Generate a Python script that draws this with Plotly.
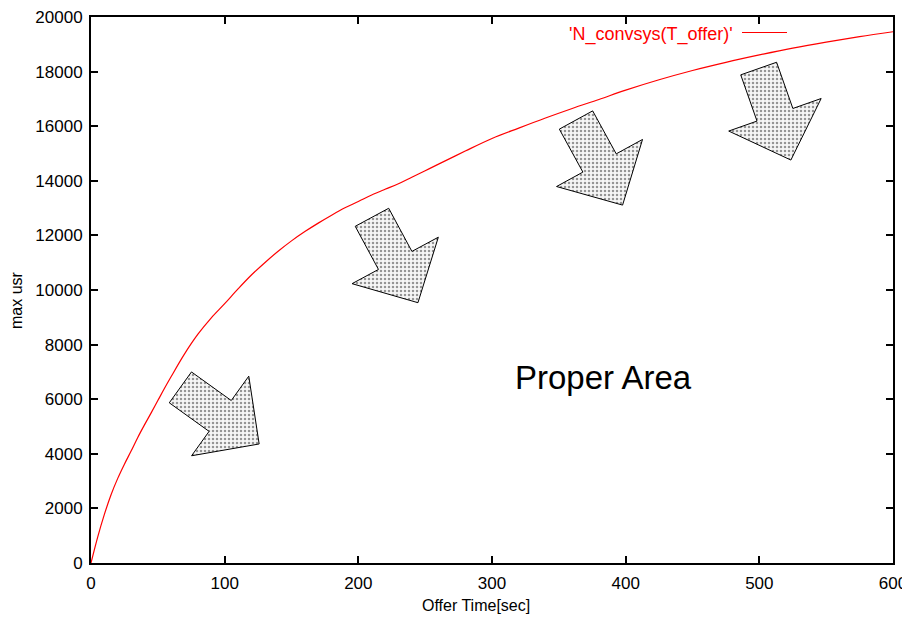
import math
import plotly.graph_objects as go

# ---- data ----
t_offer = [0, 5, 10, 15, 20, 25, 30, 35, 40, 45, 50, 55, 60, 70, 80, 90, 100, 110, 120, 130,
           140, 150, 160, 170, 180, 190, 200, 210, 220, 230, 240, 250, 260, 280, 300, 320,
           340, 360, 380, 400, 425, 450, 475, 500, 525, 550, 575, 600]
n_convsys = [0, 950, 1780, 2500, 3100, 3620, 4100, 4600, 5060, 5500, 5950, 6400, 6830, 7660,
             8380, 8980, 9500, 10040, 10550, 11000, 11420, 11800, 12140, 12450, 12740, 13010,
             13240, 13480, 13690, 13890, 14130, 14370, 14610, 15090, 15550, 15930, 16300,
             16650, 16980, 17320, 17700, 18040, 18340, 18610, 18860, 19080, 19280, 19460]
series_name = "'N_convsys(T_offer)'"

x_ticks = [0, 100, 200, 300, 400, 500, 600]
y_ticks = list(range(0, 20001, 2000))

# decorative arrows: tip position (data units) and pointing angle (degrees below horizontal)
arrow_tip_x = [125.8, 244.6, 397.7, 523.6]
arrow_tip_y = [4360, 9535, 13110, 14760]
arrow_angle = [35.7, 61.7, 61.3, 70.6]

area_label = "Proper Area"

# ---- layout geometry (page has an 8px body margin) ----
OFF = 8
PAGE_L, PAGE_R, PAGE_T, PAGE_B = 91, 893, 17, 563   # plot area in page pixels
W, H = 910 - OFF, 617 - OFF
ML, MT = PAGE_L - OFF, PAGE_T - OFF
MR = W - (PAGE_R - OFF)
MB = H - (PAGE_B - OFF)
PW, PH = PAGE_R - PAGE_L, PAGE_B - PAGE_T
XR = [0, 600]
YR = [0, 20000]
FONT = "Liberation Sans, Arial, sans-serif"


def px(x):
    return (x - PAGE_L) / PW


def py(y):
    return (PAGE_B - y) / PH


fig = go.Figure()

# arrows (template in pixels: back distance along direction, across offset)
template = [(0, 0), (48, 49), (48, 19), (97, 19), (97, -19), (48, -19), (48, -49), (0, 0)]
sx = (XR[1] - XR[0]) / PW
sy = (YR[1] - YR[0]) / PH
for tx, ty, ang in zip(arrow_tip_x, arrow_tip_y, arrow_angle):
    a = math.radians(ang)
    dx, dy = math.cos(a), math.sin(a)      # screen direction (y down)
    nx, ny = -math.sin(a), math.cos(a)
    xs, ys = [], []
    for back, across in template:
        ox = -back * dx + across * nx
        oy = -back * dy + across * ny
        xs.append(tx + ox * sx)
        ys.append(ty - oy * sy)
    fig.add_trace(go.Scatter(
        x=xs, y=ys, mode="lines", fill="toself",
        line=dict(color="black", width=1),
        fillcolor="white",
        fillpattern=dict(shape=".", size=4, solidity=0.3, fgcolor="#333333", bgcolor="#f6f6f6"),
        hoverinfo="skip", showlegend=False))

fig.add_trace(go.Scatter(
    x=t_offer, y=n_convsys, mode="lines", name=series_name,
    line=dict(color="red", width=1.2, shape="spline", smoothing=1.0),
    showlegend=False))

axis_common = dict(
    showline=True, linecolor="black", linewidth=2, mirror="ticks",
    ticks="inside", ticklen=7, tickwidth=1.5, tickcolor="black",
    showgrid=False, zeroline=False, automargin=False, ticklabeloverflow="allow",
    tickfont=dict(family=FONT, size=17, color="black"),
)
fig.update_xaxes(range=XR, tickvals=x_ticks, ticktext=[str(v) for v in x_ticks],
                 ticklabelstandoff=4, **axis_common)
fig.update_yaxes(range=YR, tickvals=y_ticks, ticktext=[str(v) for v in y_ticks],
                 ticklabelstandoff=3, **axis_common)

# legend (gnuplot style: text then sample line)
fig.add_annotation(xref="paper", yref="paper", x=px(735), y=py(35),
                   text=series_name, showarrow=False, xanchor="right", yanchor="middle",
                   font=dict(family=FONT, size=18, color="red"))
fig.add_shape(type="line", xref="paper", yref="paper",
              x0=px(742), x1=px(787), y0=py(32.5), y1=py(32.5),
              line=dict(color="red", width=1.2))

# area label
fig.add_annotation(x=316, y=6810, text=area_label, showarrow=False, xanchor="left",
                   yanchor="middle", font=dict(family=FONT, size=33, color="black"))

# axis titles
fig.add_annotation(xref="paper", yref="paper", x=px(476), y=py(605),
                   text="Offer Time[sec]", showarrow=False, xanchor="center", yanchor="middle",
                   font=dict(family=FONT, size=16, color="black"))
fig.add_annotation(xref="paper", yref="paper", x=px(17), y=py(300),
                   text="max usr", showarrow=False, textangle=-90, xanchor="center",
                   yanchor="middle", font=dict(family=FONT, size=16, color="black"))

fig.update_layout(
    width=W, height=H, autosize=False,
    margin=dict(l=ML, r=MR, t=MT, b=MB, pad=0),
    plot_bgcolor="white", paper_bgcolor="white",
    showlegend=False,
)

fig.write_html("out.html")
